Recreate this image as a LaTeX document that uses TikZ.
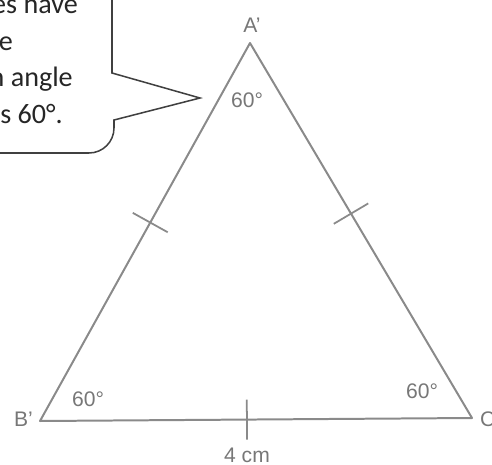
\documentclass[tikz,border=0pt]{standalone}
\usepackage{fontspec}
\setmainfont{Liberation Sans}
\newfontfamily\calloutfont{Carlito}
\usetikzlibrary{calc}
\definecolor{sidegray}{HTML}{8A8A8A}
\definecolor{labelgray}{HTML}{777777}
\definecolor{bubblegray}{HTML}{404040}
\begin{document}
\begin{tikzpicture}[x=0.03cm, y=-0.03cm,
    side/.style={draw=sidegray, line width=1.7pt, line join=round},
    tick/.style={draw=sidegray, line width=1.5pt},
    vlabel/.style={text=labelgray, font=\fontsize{18}{20}\selectfont, inner sep=0pt},
    bubble/.style={draw=bubblegray, line width=1.3pt},
    bubbletext/.style={text=black!85, font=\calloutfont\fontsize{24}{28}\selectfont,
                       inner sep=0pt, anchor=base east}
]
\useasboundingbox (0,0) rectangle (492,465);

% Varfuri
\coordinate (A) at (250,43);
\coordinate (B) at (40,421);
\coordinate (C) at (472,418);

% Triunghi
\draw[side] (A) -- (B) -- (C) -- cycle;

% Marcaje laturi egale
\coordinate (mAB) at ($(A)!0.475!(B)$);
\coordinate (mAC) at ($(A)!0.455!(C)$);
\coordinate (mBC) at ($(B)!0.479!(C)$);
\draw[tick] ($(mAB)!0.6cm!90:(B)$) -- ($(mAB)!0.6cm!-90:(B)$);
\draw[tick] ($(mAC)!0.6cm!90:(C)$) -- ($(mAC)!0.6cm!-90:(C)$);
\draw[tick] ($(mBC)!0.6cm!90:(C)$) -- ($(mBC)!0.6cm!-90:(C)$);

% Etichete
\node[vlabel] (lA) at (252,25) {A'};
\node[vlabel, anchor=east] (lB) at (33,419) {B'};
\node[vlabel, anchor=west] (lC) at (480,419) {C'};
\node[vlabel] (angA) at (247,100) {60°};
\node[vlabel] (angB) at (88,399) {60°};
\node[vlabel] (angC) at (422,391) {60°};
\node[vlabel] (len) at (247,455) {4 cm};

% Bula
\draw[bubble] (112,-10) -- (112,73) -- (200,98) -- (114,120)
    {[rounded corners=25*0.03cm] -- (114,153) -- (-10,153)};
\node[bubbletext] (t1) at (78,13) {es have};
\node[bubbletext] (t2) at (13,50) {e};
\node[bubbletext] (t3) at (73,86) {n angle};
\node[bubbletext] (t4) at (63,123) {s 60°.};

\end{tikzpicture}
\end{document}
